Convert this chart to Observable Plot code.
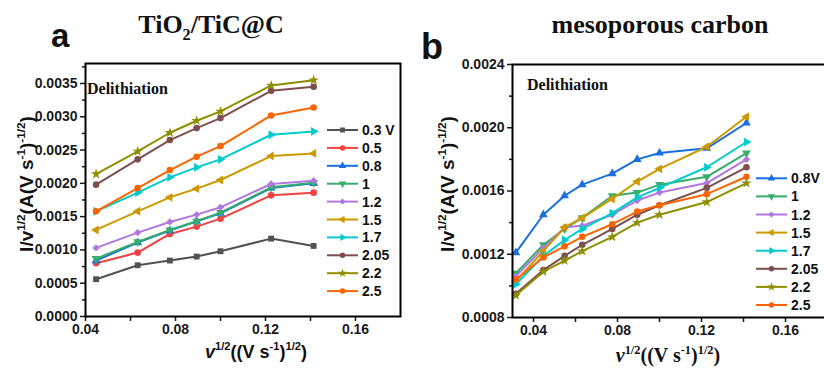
<!DOCTYPE html>
<html><head><meta charset="utf-8">
<script src="https://cdn.jsdelivr.net/npm/d3@7"></script>
<script src="https://cdn.jsdelivr.net/npm/@observablehq/plot@0.6"></script>
<style>
html,body{margin:0;padding:0;background:#fff;}
#wrap{position:relative;width:824px;height:370px;overflow:hidden;background:#fff;}
#wrap svg{position:absolute;}
</style></head><body><div id="wrap"></div>
<script>
// ---------- DATA: panel a (TiO2/TiC@C) ----------
const xA = [0.0447, 0.0632, 0.0775, 0.0894, 0.1, 0.1225, 0.1414];
const labelsA = ["0.3 V", "0.5", "0.8", "1", "1.2", "1.5", "1.7", "2.05", "2.2", "2.5"];
const a_03  = [0.00056, 0.00077, 0.00084, 0.00090, 0.00098, 0.00117, 0.00106];
const a_05  = [0.00080, 0.00096, 0.00124, 0.00135, 0.00147, 0.00182, 0.00186];
const a_08  = [0.00084, 0.00111, 0.00129, 0.00143, 0.00155, 0.00193, 0.00200];
const a_1   = [0.00087, 0.00112, 0.00130, 0.00143, 0.00156, 0.00194, 0.00201];
const a_12  = [0.00103, 0.00126, 0.00142, 0.00153, 0.00164, 0.00199, 0.00204];
const a_15  = [0.00130, 0.00158, 0.00179, 0.00192, 0.00205, 0.00241, 0.00245];
const a_17  = [0.00158, 0.00186, 0.00209, 0.00224, 0.00236, 0.00273, 0.00278];
const a_205 = [0.00198, 0.00236, 0.00265, 0.00283, 0.00298, 0.00339, 0.00345];
const a_22  = [0.00214, 0.00248, 0.00276, 0.00294, 0.00308, 0.00347, 0.00355];
const a_25  = [0.00158, 0.00193, 0.00220, 0.00240, 0.00256, 0.00302, 0.00314];
const yTicksA = [0, 0.0005, 0.001, 0.0015, 0.002, 0.0025, 0.003, 0.0035];
const yMinorA = [0.00025, 0.00075, 0.00125, 0.00175, 0.00225, 0.00275, 0.00325, 0.00375];
const xTicksA = [0.04, 0.08, 0.12, 0.16];
const xMinorA = [0.06, 0.10, 0.14];

// ---------- DATA: panel b (mesoporous carbon) ----------
const xB = [0.0316, 0.0447, 0.0548, 0.0632, 0.0775, 0.0894, 0.1, 0.1225, 0.1414];
const labelsB = ["0.8V", "1", "1.2", "1.5", "1.7", "2.05", "2.2", "2.5"];
const b_08  = [0.00121, 0.00145, 0.00157, 0.00164, 0.00171, 0.00180, 0.00184, 0.00187, 0.00203];
const b_1   = [0.00108, 0.00126, 0.00136, 0.00143, 0.00157, 0.00159, 0.00164, 0.00169, 0.00184];
const b_12  = [0.00106, 0.00124, 0.00137, 0.00138, 0.00145, 0.00154, 0.00159, 0.00165, 0.00180];
const b_15  = [0.00103, 0.00122, 0.00137, 0.00143, 0.00155, 0.00166, 0.00174, 0.00188, 0.00207];
const b_17  = [0.00101, 0.00119, 0.00129, 0.00136, 0.00146, 0.00156, 0.00162, 0.00175, 0.00191];
const b_205 = [0.00095, 0.00110, 0.00119, 0.00126, 0.00136, 0.00145, 0.00151, 0.00162, 0.00175];
const b_22  = [0.00094, 0.00109, 0.00116, 0.00122, 0.00131, 0.00140, 0.00145, 0.00153, 0.00165];
const b_25  = [0.00104, 0.00118, 0.00125, 0.00131, 0.00139, 0.00147, 0.00151, 0.00158, 0.00169];
const yTicksB = [0.0008, 0.0012, 0.0016, 0.002, 0.0024];
const yMinorB = [0.001, 0.0014, 0.0018, 0.0022];
const xTicksB = [0.04, 0.08, 0.12, 0.16];
const xMinorB = [0.06, 0.10, 0.14];

// ---------- STYLES ----------
const sqrt3 = Math.sqrt(3);
const triDown = {draw(c, s) { const y = -Math.sqrt(s / (sqrt3 * 3)); c.moveTo(0, -2 * y); c.lineTo(-sqrt3 * y, y); c.lineTo(sqrt3 * y, y); c.closePath(); }};
const triLeft = {draw(c, s) { const y = -Math.sqrt(s / (sqrt3 * 3)); c.moveTo(2 * y, 0); c.lineTo(-y, -sqrt3 * y); c.lineTo(-y, sqrt3 * y); c.closePath(); }};
const triRight = {draw(c, s) { const y = -Math.sqrt(s / (sqrt3 * 3)); c.moveTo(-2 * y, 0); c.lineTo(y, -sqrt3 * y); c.lineTo(y, sqrt3 * y); c.closePath(); }};
const colorsA = ["#515151", "#F14040", "#1A6FDF", "#37AD6B", "#B177DE", "#CC9900", "#00CBCC", "#7D4E4E", "#8E8E00", "#FB6501"];
const symbolsA = [d3.symbolSquare, d3.symbolCircle, d3.symbolTriangle, triDown, d3.symbolDiamond2, triLeft, triRight, d3.symbolCircle, d3.symbolStar, d3.symbolCircle];
const colorsB = colorsA.slice(2);
const symbolsB = symbolsA.slice(2);

const seriesA = [a_03, a_05, a_08, a_1, a_12, a_15, a_17, a_205, a_22, a_25];
const seriesB = [b_08, b_1, b_12, b_15, b_17, b_205, b_22, b_25];

const wrap = d3.select("#wrap");

function panel(o) {
  const marks = [];
  o.series.forEach((vals, i) => {
    const data = o.xs.map((x, j) => ({x, y: vals[j]}));
    marks.push(Plot.line(data, {x: "x", y: "y", stroke: o.colors[i], strokeWidth: 2}));
    marks.push(Plot.dot(data, {x: "x", y: "y", fill: o.colors[i], symbol: o.symbols[i], r: 3.3}));
  });
  marks.push(Plot.axisY({ticks: o.yTicks, tickFormat: d3.format(".4f"), tickSize: 5, tickPadding: 3, strokeWidth: 1.5, label: null}));
  marks.push(Plot.axisY({ticks: o.yMinor, tickFormat: () => "", tickSize: 3, strokeWidth: 1.5, label: null}));
  marks.push(Plot.axisX({ticks: o.xTicks, tickFormat: d3.format(".2f"), tickSize: 5, tickPadding: 3, strokeWidth: 1.5, label: null}));
  marks.push(Plot.axisX({ticks: o.xMinor, tickFormat: () => "", tickSize: 5, strokeWidth: 1.5, label: null}));
  marks.push(Plot.frame({stroke: "black", strokeWidth: 2}));
  const svg = Plot.plot({
    width: o.width, height: 370,
    marginLeft: o.ml, marginRight: o.mr, marginTop: o.mt, marginBottom: o.mb,
    x: {domain: o.xDomain, label: null},
    y: {domain: o.yDomain, label: null},
    style: {fontFamily: "'Liberation Sans', Arial, sans-serif", fontSize: "14px", fontWeight: "bold", color: "#1a1a1a", background: "transparent", overflow: "visible"},
    marks
  });
  svg.style.position = "absolute";
  svg.style.left = o.left + "px";
  svg.style.top = "0px";
  svg.style.maxWidth = "none";
  wrap.node().appendChild(svg);
}

panel({xs: xA, series: seriesA, colors: colorsA, symbols: symbolsA,
  xDomain: [0.04, 0.18], yDomain: [0, 0.0038],
  yTicks: yTicksA, yMinor: yMinorA, xTicks: xTicksA, xMinor: xMinorA,
  width: 412, left: 0, ml: 85, mr: 12, mt: 63, mb: 54});

panel({xs: xB, series: seriesB, colors: colorsB, symbols: symbolsB,
  xDomain: [0.03, 0.18], yDomain: [0.0008, 0.0024],
  yTicks: yTicksB, yMinor: yMinorB, xTicks: xTicksB, xMinor: xMinorB,
  width: 415, left: 412, ml: 100, mr: 0, mt: 64, mb: 53});

// ---------- overlay: titles, labels, legends ----------
const ov = wrap.append("svg").attr("width", 824).attr("height", 370).style("left", "0px").style("top", "0px");
const SANS = "'Liberation Sans', Arial, sans-serif";
const SERIF = "'Liberation Serif', 'Times New Roman', serif";

function rich(x, y, parts, {size, family, anchor = "middle", rotate = 0}) {
  const t = ov.append("text").attr("transform", `translate(${x},${y}) rotate(${rotate})`)
    .attr("text-anchor", anchor).attr("font-family", family).attr("font-size", size)
    .attr("font-weight", "bold").attr("fill", "#111");
  let shift = 0;
  for (const [s, k] of parts) {
    const target = k === "sup" ? -0.42 * size : k === "sub" ? 0.28 * size : 0;
    const ts = t.append("tspan").attr("dy", target - shift).text(s);
    if (k === "sup" || k === "sub") ts.attr("font-size", size * 0.62);
    if (k === "i") ts.attr("font-style", "italic");
    shift = target;
  }
  return t;
}

rich(211, 33, [["TiO", "n"], ["2", "sub"], ["/TiC@C", "n"]], {size: 26, family: SERIF});
rich(660, 33, [["mesoporous carbon", "n"]], {size: 26, family: SERIF});
rich(51, 47, [["a", "n"]], {size: 33, family: SANS, anchor: "start"});
rich(421, 59, [["b", "n"]], {size: 36, family: SANS, anchor: "start"});
rich(87, 94, [["Delithiation", "n"]], {size: 16, family: SERIF, anchor: "start"});
rich(527, 90, [["Delithiation", "n"]], {size: 16, family: SERIF, anchor: "start"});

const yLab = [["I/v", "n"], ["1/2", "sup"], ["(A(V s", "n"], ["-1", "sup"], [")", "n"], ["-1/2", "sup"], [")", "n"]];
rich(33, 184, yLab, {size: 19, family: SANS, rotate: -90});
rich(454, 184, yLab, {size: 19, family: SANS, rotate: -90});
const xLab = [["v", "i"], ["1/2", "sup"], ["((V s", "n"], ["-1", "sup"], [")", "n"], ["1/2", "sup"], [")", "n"]];
rich(256, 358, xLab, {size: 18, family: SANS});
rich(668, 362, xLab, {size: 20, family: SERIF});

function legend(x0, y0, dy, labels, colors, symbols) {
  labels.forEach((lab, i) => {
    const y = y0 + i * dy;
    ov.append("line").attr("x1", x0).attr("x2", x0 + 31).attr("y1", y).attr("y2", y)
      .attr("stroke", colors[i]).attr("stroke-width", 2);
    ov.append("path").attr("d", d3.symbol(symbols[i], 24)())
      .attr("transform", `translate(${x0 + 15.5},${y})`).attr("fill", colors[i]);
    ov.append("text").attr("x", x0 + 35).attr("y", y + 5).text(lab)
      .attr("font-family", SANS).attr("font-size", 14).attr("font-weight", "bold").attr("fill", "#111");
  });
}
legend(327, 130, 17.9, labelsA, colorsA, symbolsA);
legend(756, 178.3, 18.1, labelsB, colorsB, symbolsB);
</script></body></html>
